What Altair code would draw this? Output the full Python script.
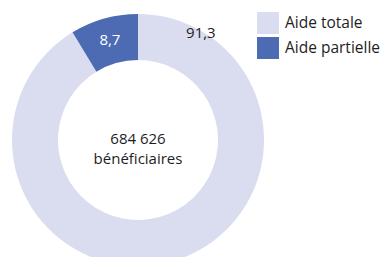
import altair as alt
import pandas as pd

categories = ["Aide totale", "Aide partielle"]
values = [91.3, 8.7]
labels = ["91,3", "8,7"]
center_lines = ["684 626", "bénéficiaires"]
colors = ["#dadcef", "#4d6bb3"]

df = pd.DataFrame({"cat": categories, "val": values, "label": labels, "order": [0, 1]})

FONT = "Open Sans"
CX, CY = 130, 132

base = alt.Chart(df).encode(
    theta=alt.Theta("val:Q", stack=True),
    order=alt.Order("order:Q"),
)

arcs = base.mark_arc(outerRadius=126, innerRadius=80, x=CX, y=CY).encode(
    color=alt.Color(
        "cat:N",
        scale=alt.Scale(domain=categories, range=colors),
        legend=alt.Legend(
            title=None, orient="none", legendX=249, legendY=4,
            symbolType="square", symbolSize=484, symbolStrokeWidth=0,
            labelFont=FONT, labelFontSize=15.5, labelColor="#1e1e1e",
            rowPadding=3, labelOffset=6,
        ),
    )
)

txt_small = base.mark_text(radius=104, x=CX, y=CY, font=FONT, fontSize=15, color="white").encode(
    text="label:N",
    opacity=alt.condition(alt.datum.cat == "Aide partielle", alt.value(1), alt.value(0)),
)

big_df = df[df.cat == "Aide totale"]
txt_big = alt.Chart(big_df).mark_text(
    x=CX, y=CY, radius=124, theta=0.532, font=FONT, fontSize=15, color="#1e1e1e"
).encode(text="label:N")

center = alt.Chart(pd.DataFrame({"t": [center_lines]})).mark_text(
    x=CX, y=CY, font=FONT, fontSize=15, color="#1e1e1e", lineHeight=20, baseline="middle", dy=-1
).encode(text="t")

chart = alt.layer(arcs, txt_small, txt_big, center).properties(
    width=372, height=249, autosize=alt.AutoSizeParams(type="none"), padding=0
).configure_view(stroke=None).configure(background="white")

chart.save("out.html", embed_options={"renderer": "svg", "actions": False})
